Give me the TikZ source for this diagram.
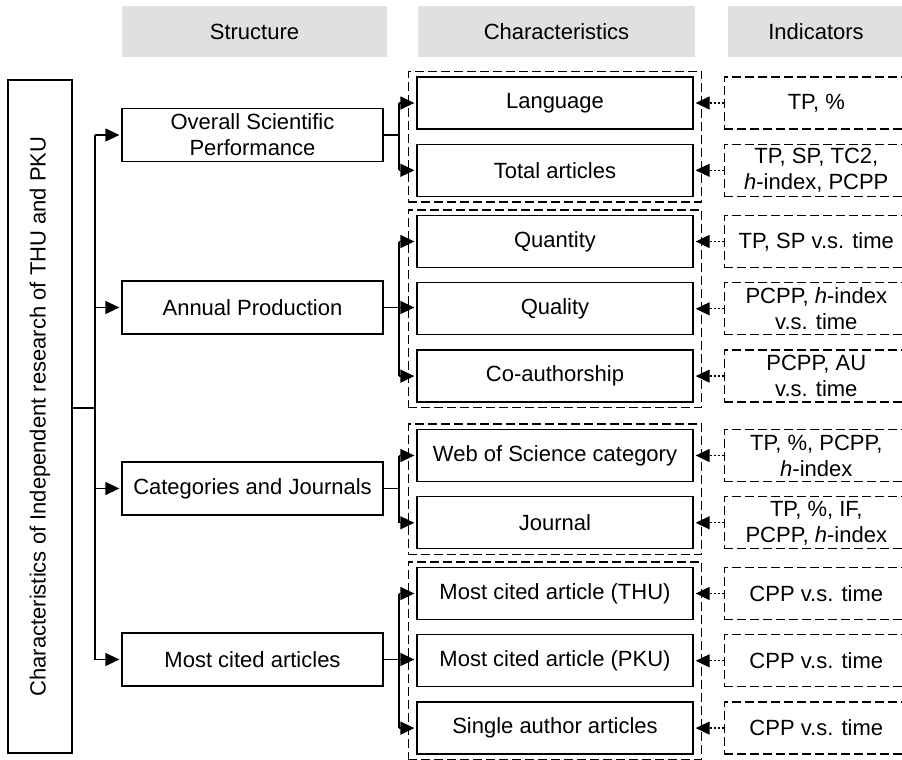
\documentclass[tikz,border=0pt]{standalone}
\usepackage{fontspec}
\setmainfont{Liberation Sans}
\usepackage{tikz}
\usetikzlibrary{positioning,fit,arrows.meta}

\begin{document}
\begin{tikzpicture}[
		x=0.5pt, y=-0.5pt,
		font=\fontsize{11}{13}\selectfont,
		every node/.style={line width=0.65pt, align=center, inner sep=2pt},
		headnode/.style={rectangle, fill=black!12, minimum width=138.5pt, minimum height=25.5pt},
		rootnode/.style={rectangle, draw=black, rotate=90, minimum width=336.5pt, minimum height=32pt},
		structnode/.style={rectangle, draw=black, minimum width=130.5pt, minimum height=26.5pt},
		charnode/.style={rectangle, draw=black, minimum width=138pt, minimum height=26pt},
		indnode/.style={rectangle, draw=black, dash pattern=on 4.5pt off 2pt, minimum width=92pt, minimum height=26pt},
		groupbox/.style={rectangle, draw=black, dash pattern=on 4.5pt off 2pt, inner xsep=4pt, inner ysep=2.5pt},
		line/.style={line width=0.65pt, draw=black},
		arr/.style={line, -{Triangle[length=7pt,width=6.5pt]}, shorten >=1pt},
		dotarr/.style={line, -{Triangle[length=7pt,width=6.5pt]}, dash pattern=on 1pt off 1pt, shorten >=1pt},
	]

		\useasboundingbox (0,0) rectangle (902,760);

		% headers
		\node[headnode, minimum width=132.5pt] (hstruct) at (254.5,31.5) {Structure};
		\node[headnode] (hchar) at (556.5,31.5) {Characteristics};
		\node[headnode, minimum width=88pt] (hind) at (816,31.5) {Indicators};

		% nodes
		\node[rootnode] (root) at (40,416.5) {Characteristics of Independent research of THU and PKU};

		\node[structnode] (osp) at (252.5,135) {Overall Scientific\\Performance};
		\node[structnode] (annual) at (252.5,307.5) {Annual Production};
		\node[structnode] (catjour) at (252.5,488.5) {Categories and Journals};
		\node[structnode] (mostcited) at (252.5,659.5) {Most cited articles};

		\node[charnode] (lang) at (555,103) {Language};
		\node[charnode] (total) [below=7pt of lang] {Total articles};
		\node[charnode] (quantity) at (555,241.5) {Quantity};
		\node[charnode] (quality) [below=7pt of quantity] {Quality};
		\node[charnode] (coauth) [below=7pt of quality] {Co-authorship};
		\node[charnode] (wos) at (555,455.5) {Web of Science category};
		\node[charnode] (journal) [below=7pt of wos] {Journal};
		\node[charnode] (thu) at (555,593.5) {Most cited article (THU)};
		\node[charnode] (pku) [below=7pt of thu] {Most cited article (PKU)};
		\node[charnode] (single) [below=7pt of pku] {Single author articles};

		\node[indnode] (ilang) [right=15pt of lang] {TP, \%};
		\node[indnode] (itotal) [right=15pt of total] {TP, SP, TC2,\\\textit{h}-index, PCPP};
		\node[indnode] (iquantity) [right=15pt of quantity] {TP, SP v.s. time};
		\node[indnode] (iquality) [right=15pt of quality] {PCPP, \textit{h}-index\\v.s. time};
		\node[indnode] (icoauth) [right=15pt of coauth] {PCPP, AU\\v.s. time};
		\node[indnode] (iwos) [right=15pt of wos] {TP, \%, PCPP,\\\textit{h}-index};
		\node[indnode] (ijournal) [right=15pt of journal] {TP, \%, IF,\\PCPP, \textit{h}-index};
		\node[indnode] (ithu) [right=15pt of thu] {CPP v.s. time};
		\node[indnode] (ipku) [right=15pt of pku] {CPP v.s. time};
		\node[indnode] (isingle) [right=15pt of single] {CPP v.s. time};

		% groups
		\node[groupbox, fit=(lang)(total)] (g1) {};
		\node[groupbox, fit=(quantity)(coauth)] (g2) {};
		\node[groupbox, fit=(wos)(journal)] (g3) {};
		\node[groupbox, fit=(thu)(single)] (g4) {};

		% lines
		\coordinate (trunk) at (95,408);
		\coordinate (br) at (399,0);
		\draw[line] (root.south |- trunk) -- (trunk);
		\draw[line] (trunk |- osp) -- (trunk |- mostcited);
		\foreach \s in {osp,annual,catjour,mostcited}
			\draw[arr] (trunk |- \s) -- (\s.west);

		\draw[line] (osp.east) -- (br |- osp);
		\draw[line] (br |- lang) -- (br |- total);
		\draw[arr] (annual.east) -- (annual.east -| quality.west);
		\draw[line] (br |- quantity) -- (br |- coauth);
		\draw[line] (catjour.east) -- (br |- catjour);
		\draw[line] (br |- wos) -- (br |- journal);
		\draw[arr] (mostcited.east) -- (mostcited.east -| pku.west);
		\draw[line] (br |- thu) -- (br |- single);
		\foreach \c in {lang,total,quantity,coauth,wos,journal,thu,single}
			\draw[arr] (br |- \c) -- (\c.west);

		\foreach \c/\i in {lang/ilang,total/itotal,quantity/iquantity,quality/iquality,coauth/icoauth,wos/iwos,journal/ijournal,thu/ithu,pku/ipku,single/isingle}
			\draw[dotarr] (\i.west) -- (\c.east);

	\end{tikzpicture}
\end{document}
